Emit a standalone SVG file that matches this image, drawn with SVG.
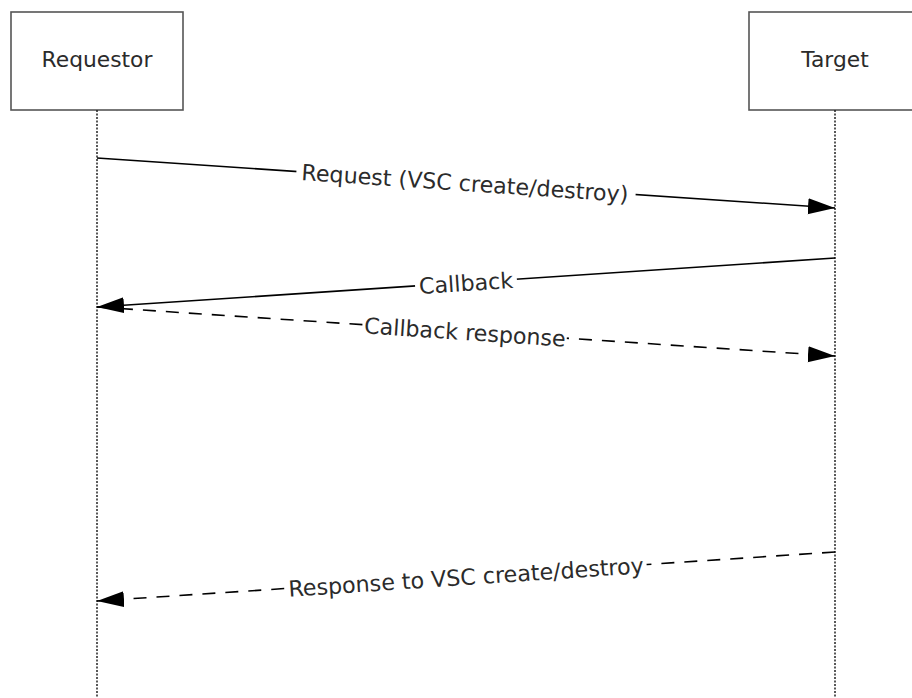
<svg xmlns="http://www.w3.org/2000/svg" width="912" height="698" viewBox="0 0 912 698">
<style>
.box{fill:#fff;stroke:#555;stroke-width:1.6}
.life{stroke:#222;stroke-width:1.5;stroke-dasharray:2 1.5;fill:none}
.msg{stroke:#000;stroke-width:1.6;fill:none;marker-end:url(#ah)}
.dash{stroke-dasharray:13 10}
.t{font-family:"DejaVu Sans","Verdana",sans-serif;font-size:21.8px;fill:#2b2b2b;text-anchor:middle}
.lbl{font-family:"DejaVu Sans","Verdana",sans-serif;font-size:22.2px;fill:#2b2b2b;text-anchor:middle}
.bg{fill:#fff;stroke:none}
</style>
<defs>
<marker id="ah" markerUnits="userSpaceOnUse" markerWidth="28" markerHeight="18" refX="27" refY="8" orient="auto" viewBox="0 0 28 18">
<path d="M0,0 L27,8 L0,16 Z" fill="#000" stroke="none"/>
</marker>
</defs>
<rect width="912" height="698" fill="#fff"/>
<g id="requestor">
<rect class="box" x="11" y="12" width="172" height="98"/>
<line class="life" x1="97" y1="110" x2="97" y2="698"/>
<text class="t" x="97" y="67">Requestor</text>
</g>
<g id="target">
<rect class="box" x="749" y="12" width="172" height="98"/>
<line class="life" x1="835" y1="110" x2="835" y2="698"/>
<text class="t" x="835" y="67">Target</text>
</g>
<g id="connectors">
<g id="m1">
<line class="msg" x1="97" y1="158" x2="835" y2="208"/>
<g transform="translate(465,183) rotate(3.876)">
<rect class="bg" x="-169" y="-13" width="340" height="26"/>
<text class="lbl" x="0" y="0" dy="0.36em">Request (VSC create/destroy)</text>
</g>
</g>
<g id="m2">
<line class="msg" x1="835" y1="258" x2="97" y2="307"/>
<g transform="translate(466,283) rotate(-3.8)">
<rect class="bg" x="-51" y="-13" width="102" height="26"/>
<text class="lbl" x="0" y="0" dy="0.36em">Callback</text>
</g>
</g>
<g id="m3">
<line class="msg dash" x1="97" y1="307" x2="835" y2="356"/>
<g transform="translate(465,332) rotate(3.8)">
<rect class="bg" x="-101" y="-13" width="203" height="26"/>
<text class="lbl" x="0" y="0" dy="0.36em">Callback response</text>
</g>
</g>
<g id="m4">
<line class="msg dash" x1="835" y1="552" x2="97" y2="601"/>
<g transform="translate(466,577) rotate(-3.8)">
<rect class="bg" x="-181" y="-13" width="362" height="26"/>
<text class="lbl" x="0" y="0" dy="0.36em">Response to VSC create/destroy</text>
</g>
</g>
</g>
</svg>
